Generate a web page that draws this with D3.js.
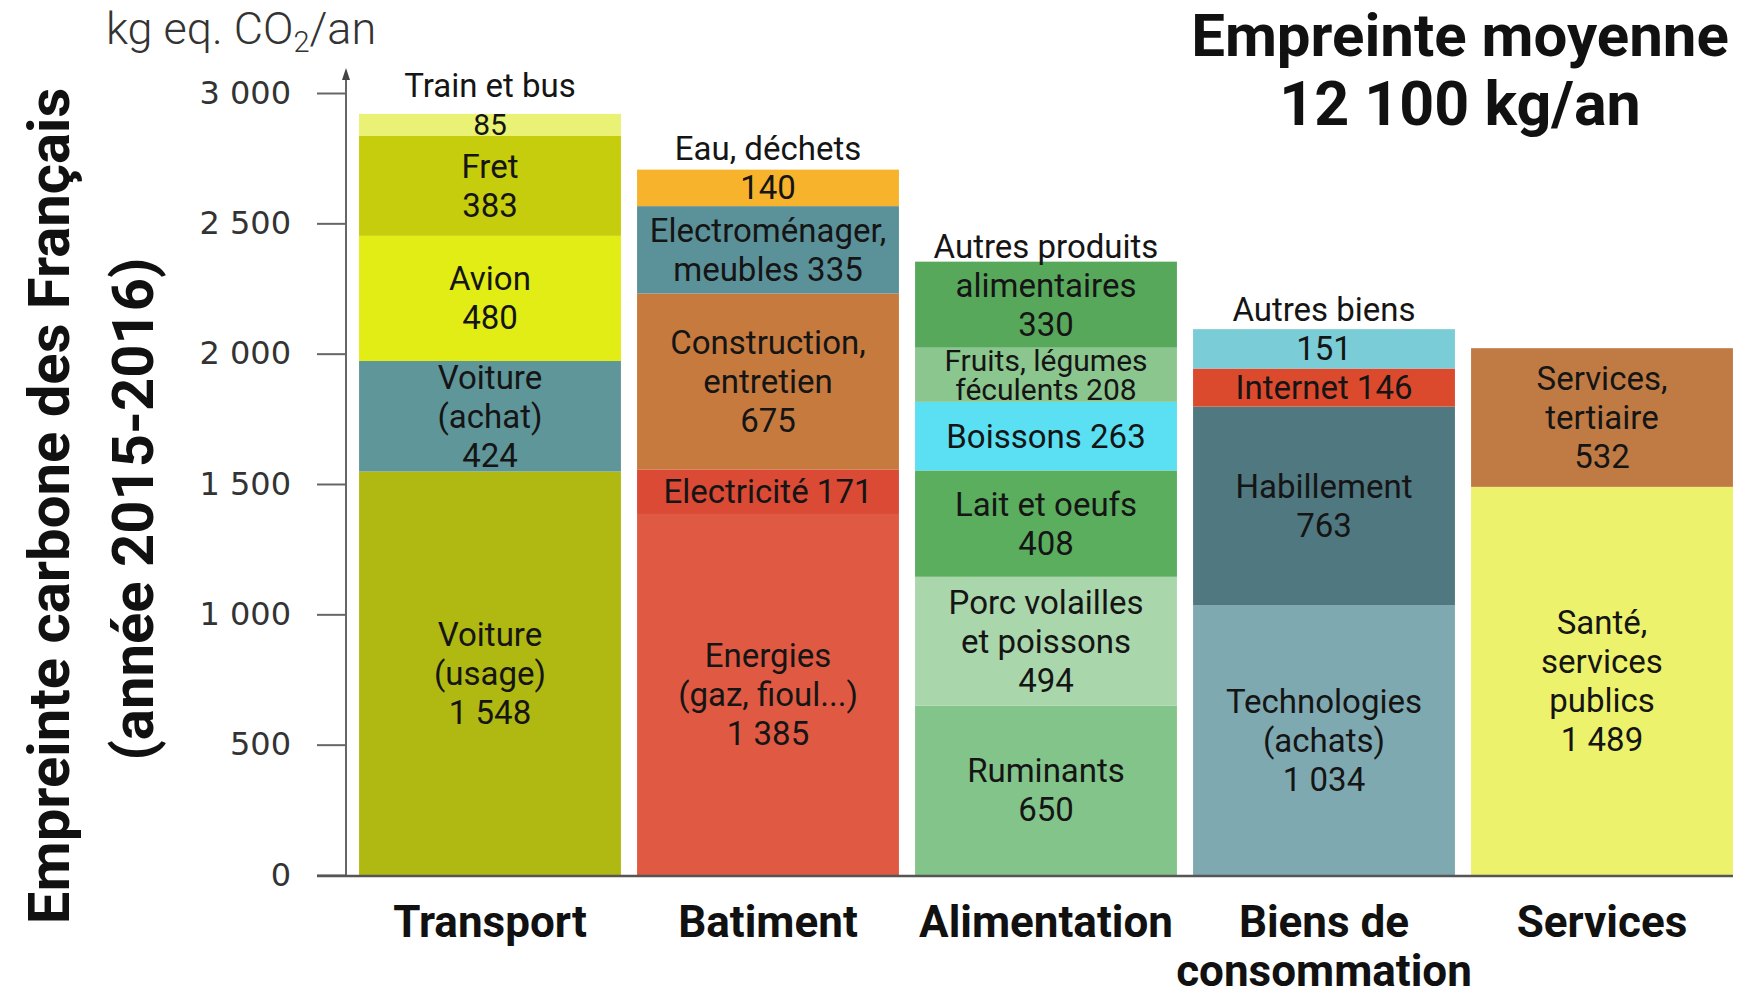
<!DOCTYPE html>
<html>
<head>
<meta charset="utf-8">
<script src="https://cdn.jsdelivr.net/npm/d3@7"></script>
<style>
    body { margin: 0; background: #fff; }
    svg { display: block; font-family: Roboto, "Noto Sans", sans-serif; }
</style>
</head>
<body>
<svg id="chart" width="1744" height="997"></svg>
<script>
// categories (x axis), from left to right
var categories = ["Transport", "Batiment", "Alimentation", "Biens", "Services"];
var categoryLabels = [["Transport"], ["Batiment"], ["Alimentation"], ["Biens de", "consommation"], ["Services"]];

// segments, bottom to top inside each category
var segCategory = [
    "Transport", "Transport", "Transport", "Transport", "Transport",
    "Batiment", "Batiment", "Batiment", "Batiment", "Batiment",
    "Alimentation", "Alimentation", "Alimentation", "Alimentation", "Alimentation", "Alimentation",
    "Biens", "Biens", "Biens", "Biens",
    "Services", "Services"
];
var segKeys = [
    "voitureUsage", "voitureAchat", "avion", "fret", "train",
    "energies", "electricite", "construction", "electromenager", "eau",
    "ruminants", "porc", "lait", "boissons", "fruits", "autresAlim",
    "technologies", "habillement", "internet", "autresBiens",
    "sante", "tertiaire"
];
var segValues = [
    1548, 424, 480, 383, 85,
    1385, 171, 675, 335, 140,
    650, 494, 408, 263, 208, 330,
    1034, 763, 146, 151,
    1489, 532
];
// {v} is replaced by the value
var segLabels = [
    ["Voiture", "(usage)", "{v}"], ["Voiture", "(achat)", "{v}"], ["Avion", "{v}"], ["Fret", "{v}"], ["{v}"],
    ["Energies", "(gaz, fioul...)", "{v}"], ["Electricité {v}"], ["Construction,", "entretien", "{v}"], ["Electroménager,", "meubles {v}"], ["{v}"],
    ["Ruminants", "{v}"], ["Porc volailles", "et poissons", "{v}"], ["Lait et oeufs", "{v}"], ["Boissons {v}"], ["Fruits, légumes", "féculents {v}"], ["alimentaires", "{v}"],
    ["Technologies", "(achats)", "{v}"], ["Habillement", "{v}"], ["Internet {v}"], ["{v}"],
    ["Santé,", "services", "publics", "{v}"], ["Services,", "tertiaire", "{v}"]
];
// caption written just above the top segment of a bar
var topCaptions = ["Train et bus", "Eau, déchets", "Autres produits", "Autres biens", ""];

var yTicks = [0, 500, 1000, 1500, 2000, 2500, 3000];

var palette = [
    "#b0b812", "#5f969a", "#e1ed14", "#c5cd0c", "#e9f274",
    "#e05a43", "#da4a34", "#c77a3e", "#5b9198", "#f7b32b",
    "#83c48b", "#a9d6ab", "#5aae5e", "#5ae0f2", "#8cc68f", "#58a85c",
    "#7ea9b0", "#4f7880", "#dc4a2e", "#7accd6",
    "#ecf26c", "#c07b44"
];

var fr = d3.formatLocale({decimal: ",", thousands: "\u00a0", grouping: [3], currency: ["", " €"]});
var fmt = fr.format(",");

var svg = d3.select("#chart");

var x = d3.scaleBand()
    .domain(categories)
    .range([351, 1741])
    .paddingInner(0.058)
    .paddingOuter(0.029);

var y = d3.scaleLinear()
    .domain([0, 3000])
    .range([875, 93]);

var color = d3.scaleOrdinal()
    .domain(segKeys)
    .range(palette);

// stack segments per category
var segs = [];
var running = {};
segKeys.forEach(function (k, i) {
    var c = segCategory[i];
    var y0 = running[c] || 0;
    var y1 = y0 + segValues[i];
    running[c] = y1;
    segs.push({key: k, cat: c, y0: y0, y1: y1, value: segValues[i], label: segLabels[i]});
});
// last segment of each category gets the caption
categories.forEach(function (c, ci) {
    var last = segs.filter(d => d.cat === c).pop();
    last.caption = topCaptions[ci];
});

svg.append("g")
    .selectAll("rect")
    .data(segs)
    .enter()
    .append("rect")
    .attr("x", d => x(d.cat))
    .attr("width", x.bandwidth())
    .attr("y", d => y(d.y1))
    .attr("height", d => y(d.y0) - y(d.y1))
    .attr("fill", d => color(d.key));

// axis
var axis = svg.append("g")
    .attr("transform", "translate(346,0)")
    .call(d3.axisLeft(y).tickValues(yTicks).tickSize(29).tickPadding(26).tickFormat(fmt));
axis.select(".domain").remove();
axis.selectAll(".tick line").attr("stroke", "#666").attr("stroke-width", 2);
axis.selectAll(".tick text")
    .attr("fill", "#333")
    .attr("font-family", "'DejaVu Sans', sans-serif")
    .attr("font-size", 32);

svg.append("line")
    .attr("x1", 346).attr("x2", 346)
    .attr("y1", y(0)).attr("y2", 74)
    .attr("stroke", "#666").attr("stroke-width", 2);
svg.append("path")
    .attr("d", "M346,68 L342,80 L350,80 Z")
    .attr("fill", "#444");
svg.append("line")
    .attr("x1", 317).attr("x2", x.range()[1] - 8)
    .attr("y1", y(0) + 1).attr("y2", y(0) + 1)
    .attr("stroke", "#555").attr("stroke-width", 2.5);

// segment labels
var lineH = 39;
var labels = svg.append("g")
    .attr("font-size", 33)
    .attr("fill", "#151515")
    .attr("text-anchor", "middle");

segs.forEach(function (d) {
    var lines = d.label.map(s => s.replace("{v}", fmt(d.value)));
    var h = y(d.y0) - y(d.y1);
    var n = lines.length;
    var tight = n * lineH > h + 12;
    var lh = tight ? 29 : lineH;
    var mid = (y(d.y0) + y(d.y1)) / 2;
    var cx = x(d.cat) + x.bandwidth() / 2;
    var top = mid - (n - 1) / 2 * lh;
    lines.forEach(function (t, i) {
        labels.append("text")
            .attr("x", cx)
            .attr("y", top + i * lh)
            .attr("dy", "0.35em")
            .attr("font-size", tight ? 30 : null)
            .text(t);
    });
    if (d.caption) {
        labels.append("text")
            .attr("x", cx)
            .attr("y", top - lineH)
            .attr("dy", "0.35em")
            .text(d.caption);
    }
});

// category labels
categories.forEach(function (c, i) {
    categoryLabels[i].forEach(function (t, j) {
        svg.append("text")
            .attr("x", x(c) + x.bandwidth() / 2)
            .attr("y", 937 + j * 49)
            .attr("text-anchor", "middle")
            .attr("font-size", 44)
            .attr("font-weight", 700)
            .attr("fill", "#111")
            .text(t);
    });
});

// unit
var unit = svg.append("text")
    .attr("x", 106)
    .attr("y", 44)
    .attr("font-size", 45)
    .attr("font-weight", 300)
    .attr("fill", "#333");
unit.append("tspan").text("kg eq. CO");
unit.append("tspan").attr("font-size", 29).attr("dy", 8).text("2");
unit.append("tspan").attr("dy", -8).text("/an");

// titles
svg.append("text")
    .attr("x", 1460).attr("y", 56)
    .attr("text-anchor", "middle")
    .attr("font-size", 60).attr("font-weight", 700)
    .attr("fill", "#111")
    .text("Empreinte moyenne");
svg.append("text")
    .attr("x", 1460).attr("y", 125)
    .attr("text-anchor", "middle")
    .attr("font-size", 61).attr("font-weight", 700)
    .attr("fill", "#111")
    .text("12 100 kg/an");

svg.append("text")
    .attr("transform", "translate(69,506) rotate(-90)")
    .attr("text-anchor", "middle")
    .attr("font-size", 58).attr("font-weight", 700)
    .attr("fill", "#111")
    .text("Empreinte carbone des Français");
svg.append("text")
    .attr("transform", "translate(153,509) rotate(-90)")
    .attr("text-anchor", "middle")
    .attr("font-size", 58).attr("font-weight", 700)
    .attr("fill", "#111")
    .text("(année 2015-2016)");
</script>
</body>
</html>
